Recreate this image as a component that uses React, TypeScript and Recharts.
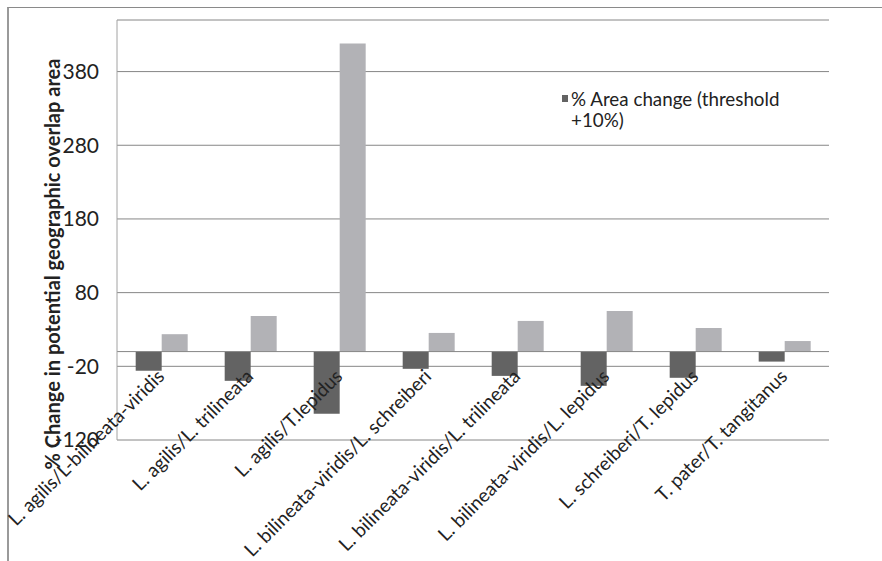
import React from 'react';
import { BarChart, Bar, XAxis, YAxis, CartesianGrid, ReferenceLine, Legend } from 'recharts';

// Species pairs compared
const CATEGORIES = [
  'L. agilis/L-bilineata-viridis',
  'L. agilis/L. trilineata',
  'L. agilis/T.lepidus',
  'L. bilineata-viridis/L. schreiberi',
  'L. bilineata-viridis/L. trilineata',
  'L. bilineata-viridis/L. lepidus',
  'L. schreiberi/T. lepidus',
  'T. pater/T. tangitanus',
];

// % change in potential geographic overlap area
const AREA_CHANGE_THRESHOLD_10 = [-26, -39.7, -84.4, -23.4, -33, -46.5, -35.6, -13.6];
const AREA_CHANGE_SECONDARY = [23.6, 48.4, 418, 25.3, 41.6, 55, 32, 14.3];

const Y_TICKS = [-120, -20, 80, 180, 280, 380];
const Y_MIN = -120;
const Y_MAX = 450;

const SERIES_NAME = '% Area change (threshold +10%)';
const Y_TITLE = '% Change in potential geographic overlap area';

const data = CATEGORIES.map((pair, i) => ({
  pair,
  threshold10: AREA_CHANGE_THRESHOLD_10[i],
  secondary: AREA_CHANGE_SECONDARY[i],
}));

const WIDTH = 882;
const HEIGHT = 561;
const MARGIN = { top: 20, right: 53, bottom: 0, left: 0 };
const X_AXIS_HEIGHT = 121;
const Y_AXIS_WIDTH = 117;
const PLOT_H = HEIGHT - MARGIN.top - MARGIN.bottom - X_AXIS_HEIGHT;
// vertical pixel position of the value 0, where Excel-style category labels hang
const ZERO_Y = MARGIN.top + ((Y_MAX - 0) / (Y_MAX - Y_MIN)) * PLOT_H;

const FONT = 'Lato, "Open Sans", sans-serif';
const TEXT = '#222222';
const GRID = '#868686';

const CategoryTick = (props: any) => {
  const { x, payload } = props;
  const ax = x + 4;
  const ay = ZERO_Y + 26;
  return (
    <text
      x={ax}
      y={ay}
      transform={`rotate(-45 ${ax} ${ay})`}
      textAnchor="end"
      fontSize={19}
      fontFamily={FONT}
      fill={TEXT}
    >
      {payload.value}
    </text>
  );
};

const YTitle = () => (
  <text
    x={52}
    y={264}
    transform="rotate(-90 52 264)"
    textAnchor="middle"
    dominantBaseline="central"
    fontSize={20}
    fontWeight="bold"
    fontFamily={FONT}
    fill={TEXT}
  >
    {Y_TITLE}
  </text>
);

const LegendBox = (props: any) => {
  const items = (props.payload || []).filter((p: any) => p.type !== 'none');
  return (
    <div style={{ fontFamily: FONT, fontSize: 18.8, color: TEXT, lineHeight: '21px', textAlign: 'left' }}>
      {items.map((p: any) => (
        <div key={p.value} style={{ display: 'flex', alignItems: 'flex-start' }}>
          <span
            style={{
              display: 'inline-block',
              width: 6,
              height: 7,
              background: p.color,
              marginTop: 7,
              marginRight: 3,
              flex: 'none',
            }}
          />
          <span style={{ width: 225 }}>{p.value}</span>
        </div>
      ))}
    </div>
  );
};

export default function App() {
  return (
    <div style={{ position: 'absolute', left: 0, top: 0, width: WIDTH, height: HEIGHT, background: '#fff', overflow: 'hidden' }}>
      <div
        style={{
          position: 'absolute',
          left: 7,
          top: 7,
          width: WIDTH,
          height: HEIGHT,
          borderTop: '1px solid #8a8a8a',
          borderLeft: '2px solid #9a9a9a',
        }}
      />
      <div style={{ position: 'absolute', left: 0, top: 0 }}>
        <BarChart
          width={WIDTH}
          height={HEIGHT}
          data={data}
          margin={MARGIN}
          barCategoryGap="21%"
          barGap={0}
        >
          <CartesianGrid vertical={false} stroke={GRID} strokeWidth={1} />
          <XAxis
            dataKey="pair"
            height={X_AXIS_HEIGHT}
            axisLine={false}
            tickLine={false}
            interval={0}
            tick={<CategoryTick />}
          />
          <YAxis
            width={Y_AXIS_WIDTH}
            domain={[Y_MIN, Y_MAX]}
            ticks={Y_TICKS}
            allowDataOverflow
            axisLine={{ stroke: '#a2a2a2', strokeWidth: 1 }}
            tickLine={false}
            tickSize={0}
            tickMargin={18}
            tick={{ fontSize: 21, fontFamily: FONT, fill: TEXT }}
            label={<YTitle />}
          />
          <ReferenceLine y={0} stroke={GRID} strokeWidth={1} />
          <Legend
            layout="horizontal"
            verticalAlign="middle"
            align="center"
            content={<LegendBox />}
            wrapperStyle={{ position: 'absolute', left: 562, top: 88, width: 240 }}
          />
          <Bar
            dataKey="threshold10"
            name={SERIES_NAME}
            fill="#636363"
            isAnimationActive={false}
          />
          <Bar
            dataKey="secondary"
            name="secondary"
            fill="#b2b2b6"
            legendType="none"
            isAnimationActive={false}
          />
        </BarChart>
      </div>
    </div>
  );
}
